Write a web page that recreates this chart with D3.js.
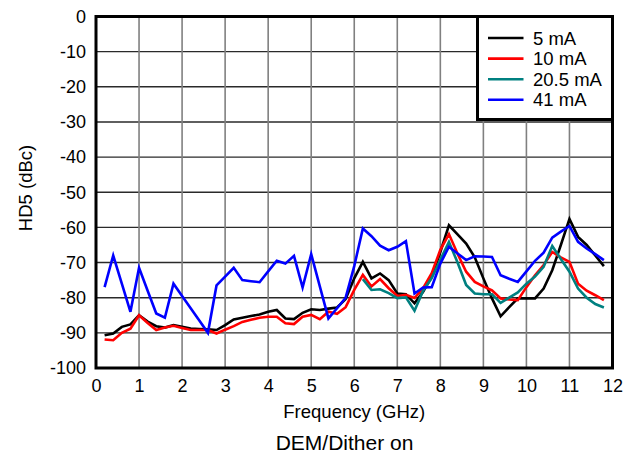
<!DOCTYPE html>
<html>
<head>
<meta charset="utf-8">
<script src="https://cdn.jsdelivr.net/npm/d3@7"></script>
<style>
  html, body { margin: 0; padding: 0; background: #fff; }
  svg text { font-family: "Liberation Sans", Arial, sans-serif; fill: #000; }
</style>
</head>
<body>
<svg id="chart" width="641" height="466"></svg>
<script>
// ---- data ----
const freqGHz = [0.2,0.4,0.6,0.8,1.0,1.2,1.4,1.6,1.8,2.0,2.2,2.4,2.6,2.8,3.0,3.2,3.4,3.6,3.8,4.0,
  4.2,4.4,4.6,4.8,5.0,5.2,5.4,5.6,5.8,6.0,6.2,6.4,6.6,6.8,7.0,7.2,7.4,7.6,7.8,8.0,
  8.2,8.4,8.6,8.8,9.0,9.2,9.4,9.6,9.8,10.0,10.2,10.4,10.6,10.8,11.0,11.2,11.4,11.6,11.8];

const hd5_5mA = [-90.7,-90.2,-88.3,-87.6,-85,-86.8,-88.1,-88.5,-87.8,-88.3,-88.8,-88.9,-89,-89.2,-87.8,-86.2,-85.7,-85.2,-84.8,-84,
  -83.5,-85.9,-86.1,-84.3,-83.3,-83.5,-83.1,-82.8,-80.4,-74.5,-69.8,-74.5,-73.1,-75,-78.8,-79,-81.6,-78.3,-74,-67,
  -59.4,-62,-64.6,-68.5,-74.5,-80.2,-85.3,-82.7,-80.2,-80.2,-80.2,-77.4,-72.2,-65,-57.6,-62.7,-65,-68,-71];

const hd5_10mA = [-91.9,-92.1,-90,-88.8,-85,-87.2,-89.2,-88.5,-88,-88.6,-89.2,-89.2,-89.2,-90.2,-89.1,-88.1,-86.9,-86.3,-85.7,-85.4,
  -85.4,-87.3,-87.5,-85.4,-84.9,-86.1,-84,-84.6,-82.7,-77.8,-73.5,-76.8,-74.7,-77.3,-79.5,-79.2,-80.1,-77.3,-73,-66.4,
  -61.9,-67.5,-72.6,-75.5,-76.8,-77.9,-80.2,-80.5,-80.7,-77,-73.6,-70.7,-67,-68.5,-69.8,-76,-78,-79.3,-80.7];

const hd5_20_5mA = [null,null,null,null,null,null,null,null,null,null,null,null,null,null,null,null,null,null,null,null,
  null,null,null,null,null,null,null,null,null,null,-74.7,-77.8,-77.6,-78.7,-80.1,-79.9,-83.7,-78,-74.4,-69.2,
  -64.1,-70,-76.4,-78.8,-79,-79,-81.5,-80,-78.5,-76,-74,-71.2,-65.3,-69,-72.6,-77.4,-80,-81.8,-82.8];

const hd5_41mA = [-77,-68,-76,-84,-71.5,-78,-84.5,-85.7,-76,-79.5,-83,-86.5,-90,-76.5,-74,-71.5,-75,-75.3,-75.6,-72.5,
  -69.5,-70.3,-68.1,-77.1,-67.6,-76.8,-85.9,-83,-80,-71,-60.3,-62.5,-65.2,-66.5,-65.5,-63.9,-78.8,-77.1,-77,-70.3,
  -65.5,-67.4,-69.3,-68.2,-68.3,-68.4,-73.6,-74.6,-75.5,-72.5,-69.5,-67.2,-62.9,-61.2,-59.6,-64.1,-66,-67.6,-69.3];

const seriesNames = ["5 mA", "10 mA", "20.5 mA", "41 mA"];
const seriesColors = ["#000000", "#ff0000", "#008080", "#0000ff"];
const seriesValues = [hd5_5mA, hd5_10mA, hd5_20_5mA, hd5_41mA];

const xTicks = [0,1,2,3,4,5,6,7,8,9,10,11,12];
const yTicks = [0,-10,-20,-30,-40,-50,-60,-70,-80,-90,-100];

const xTitle = "Frequency (GHz)";
const yTitle = "HD5 (dBc)";
const caption = "DEM/Dither on";

// ---- layout ----
const svg = d3.select("#chart");
const pL = 96, pR = 612.5, pT = 16.5, pB = 368;
const x = d3.scaleLinear().domain([0, 12]).range([pL, pR]);
const y = d3.scaleLinear().domain([-100, 0]).range([pB, pT]);

// grid
const grid = svg.append("g");
grid.selectAll("line.h").data(yTicks).join("line")
  .attr("x1", pL).attr("x2", pR)
  .attr("y1", d => y(d)).attr("y2", d => y(d))
  .attr("stroke", "#2a2a2a").attr("stroke-width", 1.4);
grid.selectAll("line.v").data(xTicks).join("line")
  .attr("y1", pT).attr("y2", pB)
  .attr("x1", d => x(d)).attr("x2", d => x(d))
  .attr("stroke", "#808080").attr("stroke-width", 1.6);

// axes via d3 (labels only)
const fmt = d => String(d);
const yAxis = svg.append("g").attr("transform", `translate(${pL},0)`)
  .call(d3.axisLeft(y).tickValues(yTicks).tickSize(0).tickPadding(10).tickFormat(fmt));
const xAxis = svg.append("g").attr("transform", `translate(0,${pB})`)
  .call(d3.axisBottom(x).tickValues(xTicks).tickSize(0).tickPadding(11).tickFormat(fmt));
[yAxis, xAxis].forEach(a => {
  a.select(".domain").remove();
  a.selectAll("text").attr("font-size", 18).attr("font-family", "Liberation Sans, Arial, sans-serif").attr("fill", "#000");
});

// lines
const line = d3.line()
  .defined(d => d[1] !== null)
  .x(d => x(d[0])).y(d => y(d[1]));

svg.append("clipPath").attr("id", "plotclip")
  .append("rect").attr("x", pL).attr("y", pT).attr("width", pR - pL).attr("height", pB - pT);

const lines = svg.append("g").attr("clip-path", "url(#plotclip)");
seriesValues.forEach((vals, i) => {
  lines.append("path")
    .datum(freqGHz.map((f, j) => [f, vals[j]]))
    .attr("d", line)
    .attr("fill", "none")
    .attr("stroke", seriesColors[i])
    .attr("stroke-width", 2.6)
    .attr("stroke-linejoin", "miter");
});

// frame
svg.append("rect")
  .attr("x", pL).attr("y", pT).attr("width", pR - pL).attr("height", pB - pT)
  .attr("fill", "none").attr("stroke", "#000").attr("stroke-width", 3);

// legend
const lg = svg.append("g");
lg.append("rect").attr("x", 477.5).attr("y", pT).attr("width", pR - 477.5).attr("height", 103)
  .attr("fill", "#fff").attr("stroke", "#000").attr("stroke-width", 3);
seriesNames.forEach((name, i) => {
  const yy = 38 + i * 20.6;
  lg.append("line").attr("x1", 488).attr("x2", 523.5).attr("y1", yy).attr("y2", yy)
    .attr("stroke", seriesColors[i]).attr("stroke-width", 2.6);
  lg.append("text").attr("x", 533).attr("y", yy + 6.5).attr("font-size", 18.5).text(name);
});

// titles
svg.append("text").attr("x", (pL + pR) / 2).attr("y", 417.5)
  .attr("text-anchor", "middle").attr("font-size", 18.5).text(xTitle);
svg.append("text").attr("transform", `translate(32,188) rotate(-90)`)
  .attr("text-anchor", "middle").attr("font-size", 18.5).text(yTitle);
svg.append("text").attr("x", 344.5).attr("y", 450)
  .attr("text-anchor", "middle").attr("font-size", 21).text(caption);
</script>
</body>
</html>
